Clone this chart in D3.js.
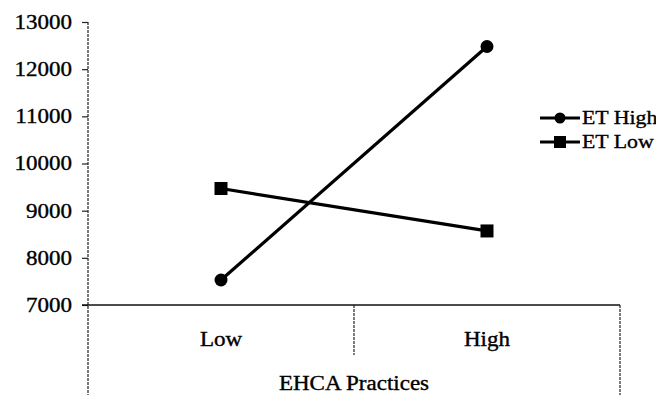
<!DOCTYPE html>
<html>
<head>
<meta charset="utf-8">
<script src="https://cdn.jsdelivr.net/npm/d3@7"></script>
<style>
  body { margin: 0; background: #fff; }
</style>
</head>
<body>
<svg id="chart" width="656" height="395"></svg>
<script>
// data
let categories = ["Low", "High"];
let seriesNames = ["ET High", "ET Low"];
let etHigh = [7530, 12480];
let etLow = [9470, 8570];
let yTicks = [7000, 8000, 9000, 10000, 11000, 12000, 13000];
let groupLabel = "EHCA Practices";

let svg = d3.select("#chart");
let plotLeft = 88, plotRight = 620, plotTop = 22, plotBottom = 305;
let stretch = 1.15;
let serif = '"Liberation Serif"';

let x = d3.scaleBand().domain(categories).range([plotLeft, plotRight]).padding(0);
let y = d3.scaleLinear().domain([7000, 13000]).range([plotBottom, plotTop]);

// set the font and widen the text a bit, the scan is stretched and inky
function widen(sel) {
    sel.style("font-family", serif)
       .attr("fill", "#000")
       .attr("stroke", "#000")
       .attr("stroke-width", 0.35);
    sel.each(function(){
        let w = this.getComputedTextLength();
        d3.select(this).attr("textLength", w * stretch).attr("lengthAdjust", "spacingAndGlyphs");
    });
}

// y axis
let yAxis = svg.append("g")
    .attr("transform", `translate(${plotLeft},0)`)
    .call(d3.axisLeft(y).tickValues(yTicks).tickSize(6).tickPadding(10).tickFormat(d3.format("d")));
yAxis.select(".domain").remove();
yAxis.attr("font-family", null);
yAxis.selectAll(".tick line").attr("stroke", "#222").attr("stroke-width", 1.2);
yAxis.selectAll(".tick text")
    .style("font-size", "20px")
    .call(widen);

// frame lines
svg.append("line").attr("x1", plotLeft).attr("x2", plotLeft).attr("y1", plotTop).attr("y2", 395)
    .attr("stroke", "#222").attr("stroke-width", 1.2).attr("stroke-dasharray", "3,1");
svg.append("line").attr("x1", plotRight).attr("x2", plotRight).attr("y1", plotBottom).attr("y2", 395)
    .attr("stroke", "#222").attr("stroke-width", 1.2).attr("stroke-dasharray", "3,1");
svg.append("line").attr("x1", plotLeft - 6).attr("x2", plotRight).attr("y1", plotBottom).attr("y2", plotBottom)
    .attr("stroke", "#111").attr("stroke-width", 1.5);
// separator between categories
svg.append("line")
    .attr("x1", x("High")).attr("x2", x("High"))
    .attr("y1", plotBottom).attr("y2", 355)
    .attr("stroke", "#222").attr("stroke-width", 1.2).attr("stroke-dasharray", "3,1");

// category labels
svg.selectAll(".cat").data(categories).enter().append("text")
    .attr("class", "cat")
    .attr("x", d => x(d) + x.bandwidth() / 2)
    .attr("y", 346)
    .attr("text-anchor", "middle")
    .style("font-size", "20px")
    .text(d => d)
    .call(widen);

svg.append("text")
    .attr("x", x("High"))
    .attr("y", 390)
    .attr("text-anchor", "middle")
    .style("font-size", "20px")
    .text(groupLabel)
    .call(widen);

// series
let line = d3.line()
    .x((d, i) => x(categories[i]) + x.bandwidth() / 2)
    .y(d => y(d));

[etHigh, etLow].forEach(function(vals, s){
    svg.append("path")
        .attr("d", line(vals))
        .attr("fill", "none")
        .attr("stroke", "#000")
        .attr("stroke-width", 3.2);
    vals.forEach(function(v, i){
        let cx = x(categories[i]) + x.bandwidth() / 2, cy = y(v);
        if (s == 0) {
            svg.append("circle").attr("cx", cx).attr("cy", cy).attr("r", 6.5).attr("fill", "#000");
        } else {
            svg.append("rect").attr("x", cx - 6.5).attr("y", cy - 6.5)
                .attr("width", 13).attr("height", 13).attr("fill", "#000");
        }
    });
});

// legend
let legend = svg.selectAll(".leg").data(seriesNames).enter().append("g")
    .attr("class", "leg")
    .attr("transform", (d, i) => `translate(540,${118 + i * 24})`);
legend.append("line").attr("x1", 0).attr("x2", 40).attr("y1", 0).attr("y2", 0)
    .attr("stroke", "#000").attr("stroke-width", 3.2);
legend.each(function(d, i){
    let g = d3.select(this);
    if (i == 0) g.append("circle").attr("cx", 20).attr("cy", 0).attr("r", 5.5).attr("fill", "#000");
    else g.append("rect").attr("x", 14).attr("y", -6).attr("width", 12).attr("height", 12).attr("fill", "#000");
});
legend.append("text")
    .attr("x", 42).attr("y", 6)
    .style("font-size", "19px")
    .text(d => d)
    .call(widen);
</script>
</body>
</html>
